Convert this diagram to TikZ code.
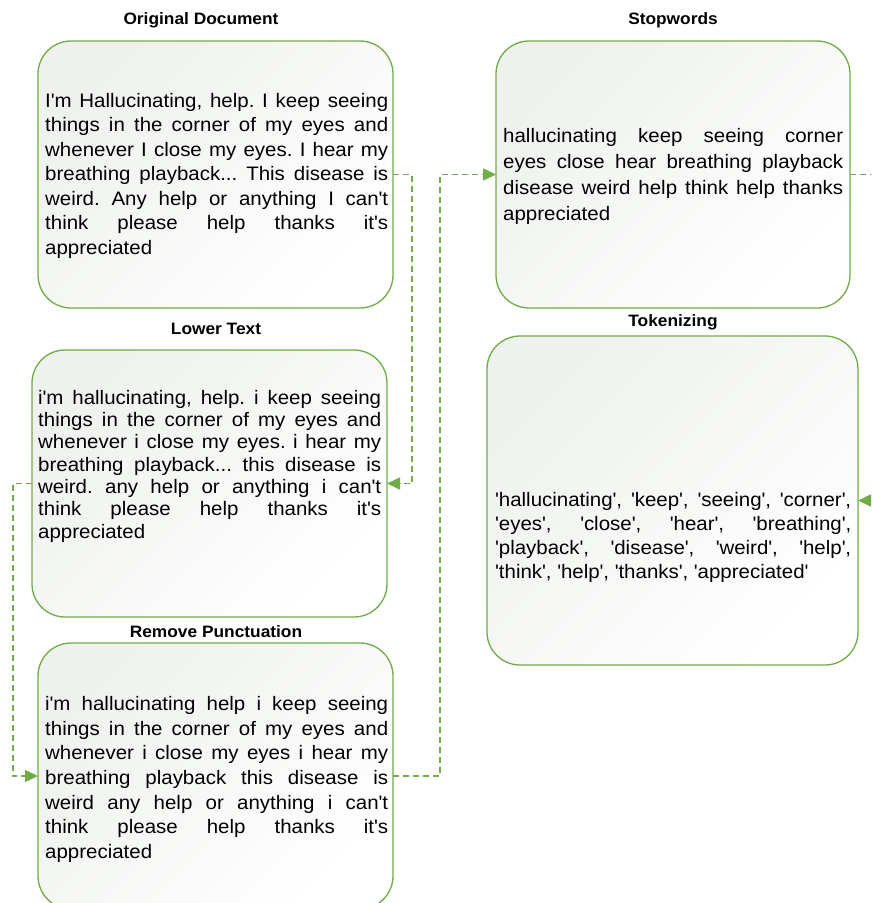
\documentclass[tikz,border=0pt]{standalone}
\usepackage{fontspec}
\setmainfont{Liberation Sans}[FakeStretch=1.05]
\usetikzlibrary{arrows.meta}

\definecolor{flowgreen}{RGB}{112,173,71}
\definecolor{boxtint}{RGB}{238,241,237}

% justified line of a given width
\newlength{\jlw}
\newcommand{\jl}[1]{\makebox[\jlw][s]{#1}}
\newcommand{\qs}{\textquotesingle}
\newcommand{\tk}[1]{\textquotesingle#1\textquotesingle}

\tikzset{
  stage/.style={draw=flowgreen, line width=1.3pt, rounded corners=33pt,
    top color=boxtint, bottom color=white, shading angle=45,
    inner sep=0pt, outer sep=0pt},
  heading/.style={font=\fontsize{16.5}{19}\selectfont\bfseries, inner sep=0pt},
  body/.style={font=\fontsize{19.5}{#1}\selectfont\frenchspacing, anchor=north west,
    inner sep=0pt, align=left},
  flow/.style={draw=flowgreen, line width=1.5pt, dash pattern=on 6pt off 4pt,
    -{Triangle[length=13pt,width=12pt]}},
}

\begin{document}
\begin{tikzpicture}[x=1pt,y=-1pt]
\useasboundingbox (0,0) rectangle (871,903);
\clip (0,0) rectangle (871,903);
\fill[white] (0,0) rectangle (871,903);

% stage boxes
\node[stage, minimum width=355pt, minimum height=267pt] (orig)  at (215.5,174.5) {};
\node[stage, minimum width=355pt, minimum height=267pt] (lower) at (209.5,483.5) {};
\node[stage, minimum width=355pt, minimum height=266pt] (punct) at (215.5,776) {};
\node[stage, minimum width=354pt, minimum height=267pt] (stop)  at (673,174.5) {};
\node[stage, minimum width=371pt, minimum height=329pt] (token) at (672.5,500.5) {};

% headings
\node[heading] (horig)  at (201,20)  {Original Document};
\node[heading] (hlower) at (216,329) {Lower Text};
\node[heading] (hpunct) at (216,632) {Remove Punctuation};
\node[heading] (hstop)  at (673,20)  {Stopwords};
\node[heading] (htoken) at (673,322) {Tokenizing};

% box contents
\setlength{\jlw}{343pt}
\node[body=24.5] (torig) at (45,93) {%
\jl{I\qs m Hallucinating, help. I keep seeing}\\
\jl{things in the corner of my eyes and}\\
\jl{whenever I close my eyes. I hear my}\\
\jl{breathing playback... This disease is}\\
\jl{weird. Any help or anything I can\qs t}\\
\jl{think please help thanks it\qs s}\\
appreciated};

\node[body=22.3] (tlower) at (38,390) {%
\jl{i\qs m hallucinating, help. i keep seeing}\\
\jl{things in the corner of my eyes and}\\
\jl{whenever i close my eyes. i hear my}\\
\jl{breathing playback... this disease is}\\
\jl{weird. any help or anything i can\qs t}\\
\jl{think please help thanks it\qs s}\\
appreciated};

\node[body=24.7] (tpunct) at (45,696) {%
\jl{i\qs m hallucinating help i keep seeing}\\
\jl{things in the corner of my eyes and}\\
\jl{whenever i close my eyes i hear my}\\
\jl{breathing playback this disease is}\\
\jl{weird any help or anything i can\qs t}\\
\jl{think please help thanks it\qs s}\\
appreciated};

\setlength{\jlw}{340pt}
\node[body=26] (tstop) at (503,128) {%
\jl{hallucinating keep seeing corner}\\
\jl{eyes close hear breathing playback}\\
\jl{disease weird help think help thanks}\\
appreciated};

\setlength{\jlw}{356pt}
\node[body=24] (ttoken) at (495,492) {%
\jl{\tk{hallucinating}, \tk{keep}, \tk{seeing}, \tk{corner},}\\
\jl{\tk{eyes}, \tk{close}, \tk{hear}, \tk{breathing},}\\
\jl{\tk{playback}, \tk{disease}, \tk{weird}, \tk{help},}\\
\tk{think}, \tk{help}, \tk{thanks}, \tk{appreciated}};

% connectors between stages
\draw[flow] (orig.east)  -- ++(19,0)  |- (lower.east);
\draw[flow] (lower.west) -- ++(-19,0) |- (punct.west);
\draw[flow] (punct.east) -- ++(47,0)  |- (stop.west);
\draw[flow] (stop.east)  -- ++(40,0)  |- (token.east);
\end{tikzpicture}
\end{document}
